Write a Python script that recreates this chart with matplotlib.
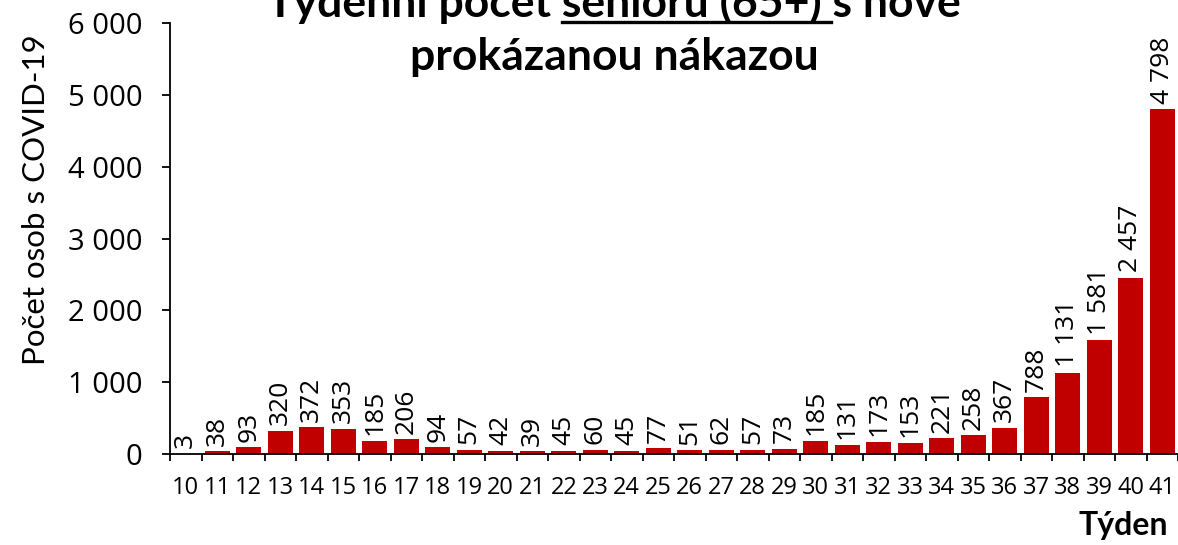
import numpy as np
import matplotlib
matplotlib.use("Agg")
import matplotlib.pyplot as plt
from matplotlib.lines import Line2D

plt.rcParams['font.family'] = ['Lato', 'DejaVu Sans']
num_font = ['Open Sans', 'DejaVu Sans']

weeks = list(range(10, 42))
seniors = [3, 38, 93, 320, 372, 353, 185, 206, 94, 57, 42, 39, 45, 60, 45, 77,
           51, 62, 57, 73, 185, 131, 173, 153, 221, 258, 367, 788, 1131, 1581,
           2457, 4798]
y_ticks = [0, 1000, 2000, 3000, 4000, 5000, 6000]

bar_color = '#C00000'
W, H = 1178, 545


def fmt(v):
    return f"{v:,}".replace(",", " ")


fig = plt.figure(figsize=(W / 100, H / 100), dpi=100)
ax = fig.add_axes([170 / W, 1 - 454 / H, 1 - 170 / W, (454 - 23) / H])

x = np.arange(len(weeks))
bars = ax.bar(x, seniors, width=0.79, color=bar_color, zorder=2)

for xi, v in zip(x, seniors):
    ax.annotate(fmt(v), (xi, v), xytext=(0, 4), textcoords='offset points',
                rotation=90, ha='center', va='bottom', fontsize=19,
                family=num_font)

ax.set_xlim(-0.5, len(weeks) - 0.5)
ax.set_ylim(0, 6000)
ax.set_xticks(x)
ax.set_xticklabels([str(w) for w in weeks], fontsize=17, family=num_font)
ax.set_xticks(np.arange(-0.5, len(weeks), 1), minor=True)
ax.tick_params(axis='x', which='major', length=0, pad=16)
ax.tick_params(axis='x', which='minor', length=5, width=1.3, direction='out')
ax.set_yticks(y_ticks)
ax.set_yticklabels([fmt(t) for t in y_ticks], fontsize=21, family=num_font)
ax.tick_params(axis='y', length=6, width=1.3, pad=14)

for s in ['top', 'right']:
    ax.spines[s].set_visible(False)
for s in ['left', 'bottom']:
    ax.spines[s].set_linewidth(1.3)

fig.text(36 / W, 1 - 200 / H, 'Počet osob s COVID-19', rotation=90,
         ha='center', va='center', fontsize=22.5)
fig.text(1168 / W, 1 - 535 / H, 'Týden', ha='right', va='baseline',
         fontsize=23, fontweight='bold')

# title, first line partly cut at the top, with underlined part
line1 = 'Týdenní počet seniorů (65+) s nově'
tsize = 32
cx = 614 / W
t1 = fig.text(cx, 1 - 17 / H, line1, ha='center', va='baseline',
              fontsize=tsize, fontweight='bold')
fig.text(cx, 1 - 70 / H, 'prokázanou nákazou', ha='center', va='baseline',
         fontsize=tsize, fontweight='bold')

fig.canvas.draw()
r = fig.canvas.get_renderer()


def width_px(s):
    tmp = fig.text(0, 0, s, fontsize=tsize, fontweight='bold')
    w = tmp.get_window_extent(renderer=r).width
    tmp.remove()
    return w


bb = t1.get_window_extent(renderer=r)
w_full = width_px(line1)
u_start = bb.x0 + w_full - width_px('seniorů (65+) s nově')
u_end = bb.x0 + w_full - width_px('s nově') - 2
uy = 1 - 22 / H
fig.add_artist(Line2D([u_start / W, u_end / W], [uy, uy], color='black',
                      linewidth=2.4, transform=fig.transFigure))

fig.savefig('out.png', dpi=100)
